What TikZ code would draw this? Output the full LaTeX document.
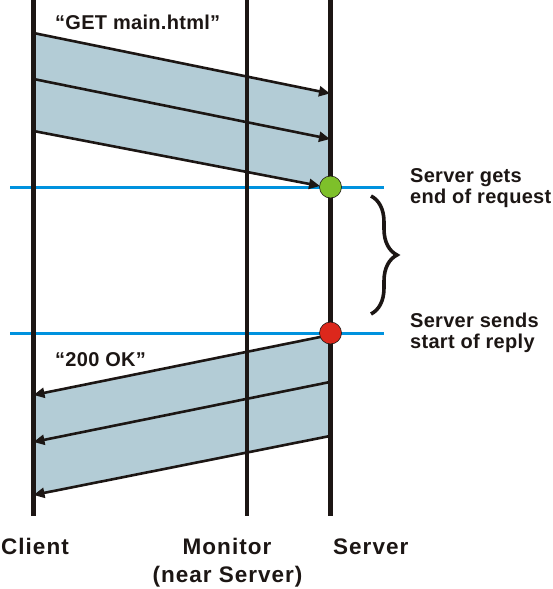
\documentclass[tikz,border=0pt]{standalone}
\usepackage{fontspec}
\setmainfont{Liberation Sans}
\newfontfamily\toplabelfont[LetterSpace=1.5]{Liberation Sans}
\newfontfamily\botlabelfont[LetterSpace=4.5]{Liberation Sans}
\usetikzlibrary{arrows.meta,decorations.pathreplacing}
\definecolor{shade}{RGB}{179,204,214}
\definecolor{timeline}{RGB}{0,146,222}
\definecolor{okgreen}{RGB}{126,192,42}
\definecolor{okred}{RGB}{220,40,28}
\definecolor{ink}{RGB}{28,22,20}
\tikzset{
  lane/.style={draw=ink,line width=4.5pt},
  msg/.style={draw=ink,line width=2.6pt,-{Triangle[length=11pt,width=10pt]}},
  band/.style={fill=shade,draw=none},
  tline/.style={draw=timeline,line width=3pt},
  dot/.style={circle,draw=ink,line width=0.6pt,minimum size=22pt,inner sep=0pt},
  lbl/.style={font=\toplabelfont\bfseries\fontsize{20}{22}\selectfont,text=ink,inner sep=0pt},
  bot/.style={font=\botlabelfont\bfseries\fontsize{22.5}{26}\selectfont,text=ink,inner sep=0pt},
}
\begin{document}
\begin{tikzpicture}[x=1pt,y=-1pt]
\useasboundingbox (0,0) rectangle (552,589);
% lane coordinates
\coordinate (ctop) at (33.5,0);   \coordinate (cbot) at (33.5,516);
\coordinate (mtop) at (247,0);    \coordinate (mbot) at (247,516);
\coordinate (stop) at (330.5,0);  \coordinate (sbot) at (330.5,516);
% message end points
\coordinate (q1a) at (33.5,33);  \coordinate (q1b) at (330,93.5);
\coordinate (q2a) at (33.5,79);  \coordinate (q2b) at (330,139);
\coordinate (q3a) at (33.5,131); \coordinate (q3b) at (320,186);
\coordinate (r1a) at (330,335);  \coordinate (r1b) at (33.5,395);
\coordinate (r2a) at (330,382);  \coordinate (r2b) at (33.5,442);
\coordinate (r3a) at (330,436);  \coordinate (r3b) at (33.5,495);
% bands
\fill[band] (q1a) -- (q1b) -- (330,188) -- (q3a) -- cycle;
\fill[band] (r1a) -- (r3a) -- (r3b) -- (r1b) -- cycle;
% time lines
\coordinate (t1l) at (10,187); \coordinate (t1r) at (384,187);
\coordinate (t2l) at (10,333); \coordinate (t2r) at (384,333);
\draw[tline] (t1l) -- (t1r);
\draw[tline] (t2l) -- (t2r);
% lanes
\draw[lane] (ctop) -- (cbot);
\draw[lane] (mtop) -- (mbot);
\draw[lane] (stop) -- (sbot);
% messages
\draw[msg] (q1a) -- (q1b);
\draw[msg] (q2a) -- (q2b);
\draw[msg] (q3a) -- (q3b);
\draw[msg] (r1a) -- (r1b);
\draw[msg] (r2a) -- (r2b);
\draw[msg] (r3a) -- (r3b);
% events
\node[dot,fill=okgreen] (ev1) at (330.5,187) {};
\node[dot,fill=okred] (ev2) at (330.5,333) {};
% brace
\coordinate (b1) at (371,196); \coordinate (b2) at (371,314);
\draw[draw=ink,line width=3.6pt,decorate,decoration={brace,amplitude=26pt,aspect=0.5}] (b1) -- (b2);
% labels
\node[lbl,anchor=base west] (get) at (55,29) {“GET main.html”};
\node[lbl,anchor=base west] (ok) at (55,366) {“200 OK”};
\node[lbl,anchor=base west] (g1) at (410,182) {Server gets};
\node[lbl,anchor=base west] (g2) at (410,203) {end of request};
\node[lbl,anchor=base west] (s1) at (410,327) {Server sends};
\node[lbl,anchor=base west] (s2) at (410,348) {start of reply};
\node[bot,anchor=base west] (client) at (1,554) {Client};
\node[bot,anchor=base] (mon) at (227,554) {Monitor};
\node[bot,anchor=base] (mon2) at (227.5,582) {(near Server)};
\node[bot,anchor=base west] (server) at (333,554) {Server};
\end{tikzpicture}
\end{document}
